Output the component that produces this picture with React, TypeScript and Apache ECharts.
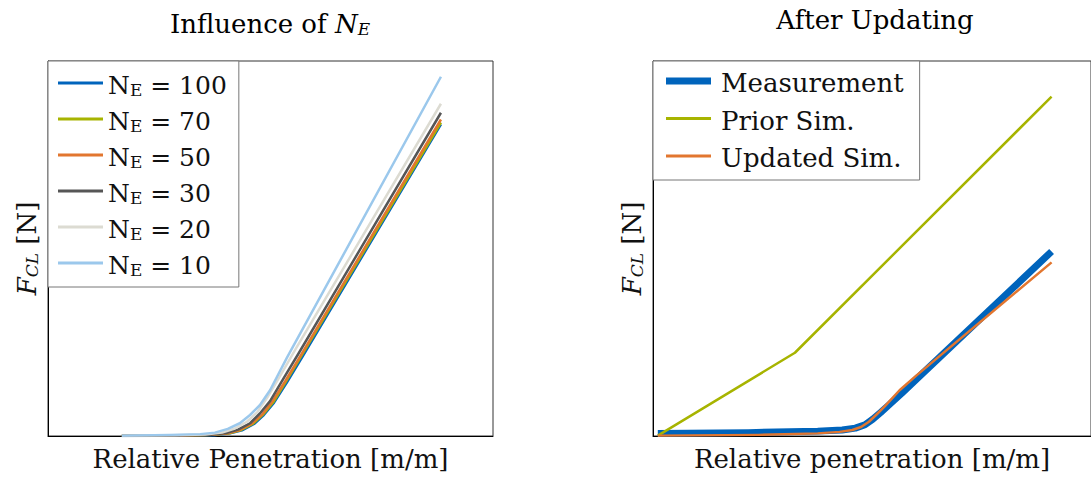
import React, { useEffect, useRef } from "react";
import * as echarts from "echarts";

const FONT = "DejaVu Serif";

// ---------- Left plot: influence of N_E ----------
const leftNames = ["NE = 100", "NE = 70", "NE = 50", "NE = 30", "NE = 20", "NE = 10"];
const leftLabels = ["100", "70", "50", "30", "20", "10"];
const leftColors = ["#0064bc", "#a7b400", "#e2762f", "#565656", "#dcdbd2", "#9bc8ec"];

const ne100X = [0.166, 0.312, 0.373, 0.409, 0.436, 0.463, 0.485, 0.508, 0.537, 0.573, 0.883];
const ne100Y = [0.0, 0.001, 0.002, 0.007, 0.015, 0.032, 0.056, 0.089, 0.143, 0.214, 0.831];
const ne70X = [0.166, 0.31, 0.371, 0.407, 0.434, 0.461, 0.483, 0.506, 0.535, 0.571, 0.883];
const ne70Y = [0.001, 0.001, 0.003, 0.007, 0.016, 0.033, 0.057, 0.09, 0.146, 0.217, 0.836];
const ne50X = [0.166, 0.308, 0.37, 0.404, 0.431, 0.458, 0.481, 0.503, 0.533, 0.569, 0.883];
const ne50Y = [0.001, 0.001, 0.003, 0.007, 0.016, 0.033, 0.057, 0.09, 0.146, 0.217, 0.844];
const ne30X = [0.166, 0.297, 0.364, 0.4, 0.427, 0.454, 0.476, 0.499, 0.528, 0.564, 0.883];
const ne30Y = [0.001, 0.001, 0.003, 0.008, 0.017, 0.034, 0.06, 0.093, 0.151, 0.222, 0.862];
const ne20X = [0.166, 0.285, 0.353, 0.391, 0.42, 0.447, 0.47, 0.492, 0.521, 0.557, 0.883];
const ne20Y = [0.001, 0.002, 0.004, 0.009, 0.02, 0.038, 0.063, 0.101, 0.159, 0.233, 0.886];
const ne10X = [0.166, 0.274, 0.342, 0.375, 0.404, 0.431, 0.454, 0.476, 0.499, 0.537, 0.883];
const ne10Y = [0.001, 0.003, 0.005, 0.009, 0.019, 0.034, 0.056, 0.082, 0.122, 0.209, 0.958];

const leftXs = [ne100X, ne70X, ne50X, ne30X, ne20X, ne10X];
const leftYs = [ne100Y, ne70Y, ne50Y, ne30Y, ne20Y, ne10Y];

// ---------- Right plot: after updating ----------
const rightNames = ["Measurement", "Prior Sim.", "Updated Sim."];
const rightColors = ["#0064bc", "#a7b400", "#e2762f"];

const measX = [0.011, 0.218, 0.376, 0.432, 0.462, 0.484, 0.502, 0.52, 0.538, 0.568, 0.601, 0.91];
const measY = [0.007, 0.009, 0.013, 0.016, 0.021, 0.03, 0.045, 0.063, 0.082, 0.114, 0.151, 0.492];
const priorX = [0.011, 0.324, 0.91];
const priorY = [0.001, 0.222, 0.905];
const updX = [0.011, 0.241, 0.376, 0.426, 0.455, 0.475, 0.493, 0.511, 0.529, 0.563, 0.601, 0.91];
const updY = [0.001, 0.003, 0.007, 0.011, 0.016, 0.024, 0.038, 0.058, 0.079, 0.122, 0.161, 0.463];

const rightXs = [measX, priorX, updX];
const rightYs = [measY, priorY, updY];
const rightWidths = [7, 2.5, 2.5];

const zip = (xs: number[], ys: number[]) => xs.map((x, i) => [x, ys[i]]);

const makeRich = (fs: number, sfs: number) => ({
  n: { fontFamily: FONT, fontSize: fs, lineHeight: 30, color: "#111", verticalAlign: "bottom" },
  i: { fontFamily: FONT, fontSize: fs, lineHeight: 30, color: "#111", fontStyle: "italic", verticalAlign: "bottom" },
  s: { fontFamily: FONT, fontSize: sfs, lineHeight: 14, color: "#111", verticalAlign: "bottom" },
  si: { fontFamily: FONT, fontSize: sfs, lineHeight: 14, color: "#111", fontStyle: "italic", verticalAlign: "bottom" },
});
const rich = makeRich(26, 17);
const richLegend = makeRich(25, 17);

export default function App() {
  const ref = useRef<HTMLDivElement>(null);
  useEffect(() => {
    if (!ref.current) return;
    const chart = echarts.init(ref.current, null, { renderer: "svg" });

    const axisCommon = {
      type: "value",
      min: 0,
      max: 1,
      axisLine: { show: true, onZero: false, lineStyle: { color: "#000", width: 1 } },
      axisTick: { show: false },
      axisLabel: { show: false },
      splitLine: { show: false },
    };

    const xName = (txt: string) => ({
      name: txt,
      nameLocation: "middle",
      nameGap: 8,
      nameTextStyle: { fontFamily: FONT, fontSize: 26, lineHeight: 30, color: "#111" },
    });
    const yName = {
      name: "{i|F}{si|CL}{n| [N]}",
      nameLocation: "middle",
      nameRotate: 90,
      nameGap: 8,
      nameTextStyle: { fontFamily: FONT, fontSize: 26, lineHeight: 30, color: "#111", rich },
    };

    const series: any[] = [];
    leftNames.forEach((name, k) => {
      series.push({
        name,
        type: "line",
        xAxisIndex: 0,
        yAxisIndex: 0,
        data: zip(leftXs[k], leftYs[k]),
        symbol: "none",
        smooth: false,
        color: leftColors[k],
        lineStyle: { color: leftColors[k], width: 2.5, join: "round" },
      });
    });
    rightNames.forEach((name, k) => {
      series.push({
        name,
        type: "line",
        xAxisIndex: 1,
        yAxisIndex: 1,
        data: zip(rightXs[k], rightYs[k]),
        symbol: "none",
        smooth: false,
        color: rightColors[k],
        lineStyle: { color: rightColors[k], width: rightWidths[k], join: "round" },
      });
    });

    const thin = "path://M0,0H45V3H0Z";
    const thick = "path://M0,0H45V7H0Z";

    chart.setOption({
      animation: false,
      backgroundColor: "#fff",
      grid: [
        { left: 48, top: 61, width: 445, height: 378, show: true, borderColor: "#333", borderWidth: 1 },
        { left: 653, top: 61, width: 444, height: 378, show: true, borderColor: "#333", borderWidth: 1 },
      ],
      xAxis: [
        { ...axisCommon, gridIndex: 0, ...xName("Relative Penetration [m/m]") },
        { ...axisCommon, gridIndex: 1, ...xName("Relative penetration [m/m]") },
      ],
      yAxis: [
        { ...axisCommon, gridIndex: 0, ...yName },
        { ...axisCommon, gridIndex: 1, ...yName },
      ],
      legend: [
        {
          left: 48,
          top: 61,
          orient: "vertical",
          selectedMode: false,
          itemWidth: 45,
          itemHeight: 20,
          itemGap: 6,
          padding: [7, 12, 9, 10],
          borderColor: "#777",
          borderWidth: 1,
          backgroundColor: "#fff",
          itemStyle: { borderWidth: 0 },
          data: leftNames.map((n) => ({ name: n, icon: thin })),
          formatter: (name: string) => {
            const idx = leftNames.indexOf(name);
            return "{n|N}{s|E}{n| = " + leftLabels[idx] + "}";
          },
          textStyle: { fontFamily: FONT, fontSize: 25, lineHeight: 30, color: "#111", rich: richLegend },
        },
        {
          left: 653,
          top: 61,
          orient: "vertical",
          selectedMode: false,
          itemWidth: 45,
          itemHeight: 20,
          itemGap: 7.5,
          padding: [5, 16, 9, 13],
          borderColor: "#777",
          borderWidth: 1,
          backgroundColor: "#fff",
          itemStyle: { borderWidth: 0 },
          data: rightNames.map((n, k) => ({ name: n, icon: k === 0 ? thick : thin })),
          formatter: (name: string) => "{n|" + name + "}",
          textStyle: { fontFamily: FONT, fontSize: 26, lineHeight: 30, color: "#111", padding: [0, 0, 0, 5], rich },
        },
      ],
      graphic: [
        {
          type: "text",
          x: 270,
          y: 22,
          style: {
            text: "{n|Influence of }{i|N}{si|E}",
            rich,
            align: "center",
            verticalAlign: "middle",
            textAlign: "center",
            textVerticalAlign: "middle",
          },
        },
        {
          type: "text",
          x: 875,
          y: 18,
          style: {
            text: "{n|After Updating}",
            rich,
            align: "center",
            verticalAlign: "middle",
            textAlign: "center",
            textVerticalAlign: "middle",
          },
        },
      ],
      series,
    });
    return () => chart.dispose();
  }, []);
  return (
    <div
      ref={ref}
      style={{ position: "absolute", left: 0, top: 0, width: 1091, height: 479, background: "#fff" }}
    />
  );
}
